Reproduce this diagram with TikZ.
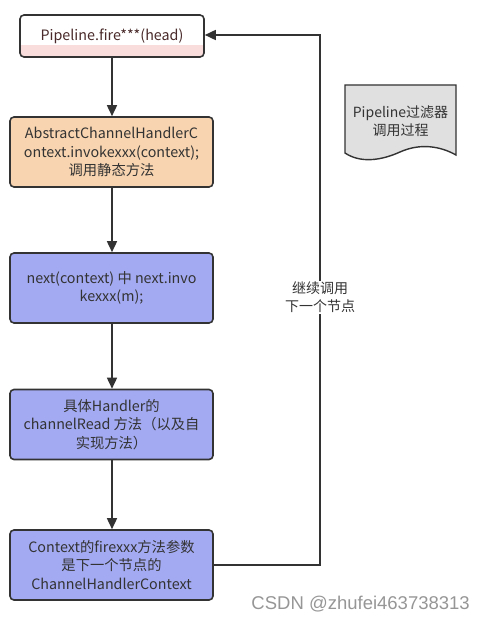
\documentclass[tikz,border=0pt]{standalone}
\usepackage{fontspec}
\setmainfont{Noto Sans CJK SC}
\newfontfamily\wmfont{Liberation Sans}
\usetikzlibrary{arrows.meta}
\definecolor{edge}{HTML}{333333}
\definecolor{peach}{HTML}{F8D4B0}
\definecolor{lav}{HTML}{A3AAF2}
\definecolor{pinkstrip}{HTML}{F9DCDC}
\definecolor{docgray}{HTML}{E0E0E0}
\definecolor{txt}{HTML}{333333}
\definecolor{toptxt}{HTML}{4A2A2A}
\begin{document}
\begin{tikzpicture}[x=1bp,y=-1bp,
  box/.style={draw=edge,line width=1.6bp,rounded corners=4bp,minimum width=203bp,minimum height=70bp,align=center,text=txt,font=\fontsize{14.3bp}{18.5bp}\selectfont,inner sep=2bp},
  conn/.style={draw=edge,line width=1.6bp,-{Triangle[length=11bp,width=10bp]}},
  lbl/.style={align=center,text=txt,font=\fontsize{14bp}{18.5bp}\selectfont}]
\useasboundingbox (0,0) rectangle (485,621);
% top box
\begin{scope}
\clip[rounded corners=4bp] (20,15) rectangle (204,57);
\fill[white] (20,15) rectangle (204,57);
\fill[pinkstrip] (20,45) rectangle (204,57);
\end{scope}
\node[draw=edge,line width=1.6bp,rounded corners=4bp,minimum width=184bp,minimum height=42bp,inner sep=0pt,text=toptxt,font=\fontsize{14.3bp}{18bp}\selectfont] (n1) at (112,36) {Pipeline.fire***(head)};
\node[box,fill=peach] (n2) at (111.5,152) {AbstractChannelHandlerC\\ontext.invokexxx(context);\\调用静态方法};
\node[box,fill=lav] (n3) at (111.5,288) {next(context) 中 next.invo\\kexxx(m);};
\node[box,fill=lav] (n4) at (111.5,424.5) {具体Handler的\\channelRead 方法（以及自\\实现方法）};
\node[box,fill=lav] (n5) at (111.5,565) {Context的firexxx方法参数\\是下一个节点的\\ChannelHandlerContext};
\draw[conn] (n1.south -| 112,0) -- (n2.north -| 112,0);
\draw[conn] (n2.south -| 112,0) -- (n3.north -| 112,0);
\draw[conn] (n3.south -| 112,0) -- (n4.north -| 112,0);
\draw[conn] (n4.south -| 112,0) -- (n5.north -| 112,0);
\coordinate (c1) at (320,565);
\coordinate (c2) at (320,35);
\draw[conn] (n5.east |- c1) -- (c1) -- node[pos=0.505,fill=white,lbl,inner sep=1bp] (lb) {继续调用\\下一个节点} (c2) -- (n1.east |- c2);
% document shape
\draw[edge,line width=1.4bp,fill=docgray] (345,85) -- (456,85) -- (456,155)
  .. controls (440,146) and (420,143) .. (400,152)
  .. controls (380,161) and (360,163) .. (345,153) -- cycle;
\node[lbl] (doc) at (400.5,121) {Pipeline过滤器\\调用过程};
% watermark
\node[text={rgb,255:red,150;green,150;blue,150},font=\wmfont\fontsize{18.5bp}{20bp}\selectfont,anchor=east,inner sep=0pt] (wm) at (470,604) {CSDN @zhufei463738313};
\end{tikzpicture}
\end{document}
